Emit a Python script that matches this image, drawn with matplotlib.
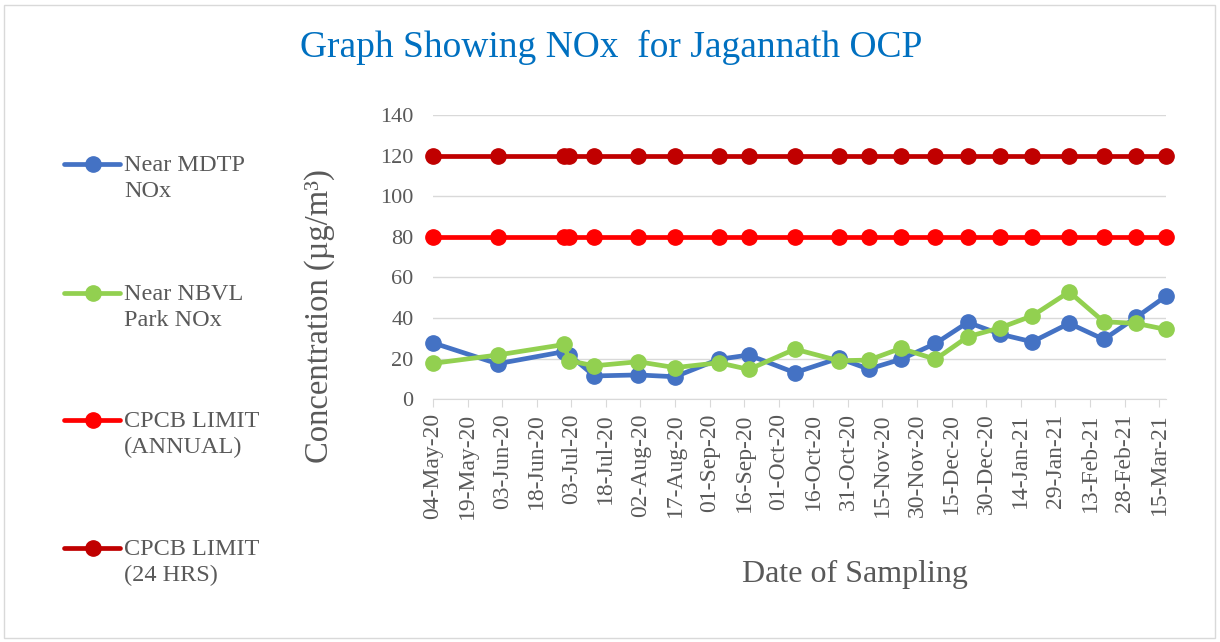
"""
NOx concentration chart for Jagannath OCP
"""

import matplotlib
matplotlib.use("Agg")
import matplotlib.pyplot as plt
import matplotlib.dates as mdates
from matplotlib.lines import Line2D
from matplotlib.patches import Rectangle
import pandas as pd

plt.rcParams["font.family"] = ["Liberation Serif", "DejaVu Serif"]

# sampling dates and values
dates = pd.to_datetime([
    "2020-05-04", "2020-06-01", "2020-06-30", "2020-07-02", "2020-07-13",
    "2020-08-01", "2020-08-17", "2020-09-05", "2020-09-18", "2020-10-08",
    "2020-10-27", "2020-11-09", "2020-11-23", "2020-12-08", "2020-12-22",
    "2021-01-05", "2021-01-19", "2021-02-04", "2021-02-19", "2021-03-05",
    "2021-03-18",
])
mdtp = [27.8, 17.5, 23.5, 22.0, 11.5, 12.0, 11.1, 19.7, 21.8, 13.1, 20.2,
        14.9, 19.7, 27.5, 37.9, 32.1, 28.3, 37.4, 29.5, 40.3, 50.8]
nbvl = [17.7, 21.8, 27.0, 19.0, 16.5, 18.5, 15.6, 18.0, 14.7, 24.7, 19.0,
        19.3, 25.1, 19.7, 30.8, 35.2, 41.1, 52.9, 38.2, 37.4, 34.4]
limit_annual = [80] * len(dates)
limit_24h = [120] * len(dates)

series_names = ["Near MDTP\nNOx", "Near NBVL\nPark NOx",
                "CPCB LIMIT\n(ANNUAL)", "CPCB LIMIT\n(24 HRS)"]
series_values = [mdtp, nbvl, limit_annual, limit_24h]
series_colors = ["#4472C4", "#92D050", "#FF0000", "#C00000"]

tick_dates = pd.date_range("2020-05-04", "2021-03-15", freq="15D")

W, H = 1220, 642
fig = plt.figure(figsize=(W / 100, H / 100), dpi=100)
ax = fig.add_axes([433 / W, 1 - 399.3 / H, 733 / W, 284.3 / H])

grey = "#595959"
for vals, col in zip(series_values, series_colors):
    ax.plot(dates, vals, color=col, lw=3.4, marker="o", ms=11,
            solid_capstyle="round", clip_on=False)

ax.set_xlim(dates[0], dates[-1])
ax.set_ylim(0, 140)
ax.set_yticks(range(0, 141, 20))
ax.set_xticks(tick_dates)
ax.xaxis.set_major_formatter(mdates.DateFormatter("%d-%b-%y"))
ax.tick_params(axis="x", rotation=90, labelsize=17, colors=grey,
               color="#D9D9D9", length=6, pad=4)
ax.tick_params(axis="y", labelsize=16, colors=grey, length=0, pad=14)
ax.grid(axis="y", color="#D9D9D9", lw=1)
ax.set_axisbelow(True)
for s in ["top", "right", "left"]:
    ax.spines[s].set_visible(False)
ax.spines["bottom"].set_color("#D9D9D9")

ax.set_ylabel("Concentration (µg/m³)", fontsize=23.5, color=grey)
ax.yaxis.set_label_coords(-0.134, 0.293)
ax.set_xlabel("Date of Sampling", fontsize=23, color=grey)
ax.xaxis.set_label_coords(0.576, -0.565)

fig.text(0.501, 1 - 47 / H, "Graph Showing NOx  for Jagannath OCP",
         fontsize=27, color="#0070C0", ha="center", va="center")

# legend on the left, handle level with the first text line
leg_y = [164, 293, 420, 548]
for name, col, y in zip(series_names, series_colors, leg_y):
    fig.add_artist(Line2D(
        [64 / W, 93 / W, 120 / W], [1 - y / H] * 3, transform=fig.transFigure,
        color=col, lw=3.4, marker="o", ms=11, markevery=[1],
        solid_capstyle="round"))
    fig.text(124 / W, 1 - (y - 9) / H, name, fontsize=17.5, color=grey,
             va="top", ha="left", linespacing=1.3)

fig.add_artist(Rectangle((4 / W, 4 / H), 1 - 9 / W, 1 - 9 / H,
                         transform=fig.transFigure, fill=False,
                         edgecolor="#D9D9D9", lw=1))

fig.savefig("out.png", dpi=100)
